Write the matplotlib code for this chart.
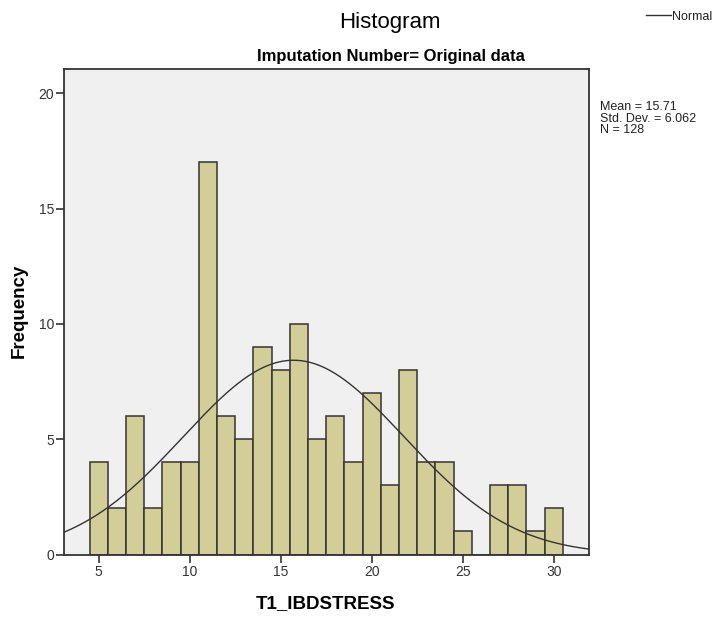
import numpy as np
import matplotlib
matplotlib.use("Agg")
import matplotlib.pyplot as plt
from matplotlib.lines import Line2D

plt.rcParams['font.family'] = ['Liberation Sans', 'DejaVu Sans']

# frequency of each T1_IBDSTRESS score
scores = [5, 6, 7, 8, 9, 10, 11, 12, 13, 14, 15, 16, 17, 18, 19, 20,
          21, 22, 23, 24, 25, 26, 27, 28, 29, 30]
counts = [4, 2, 6, 2, 4, 4, 17, 6, 5, 9, 8, 10, 5, 6, 4, 7,
          3, 8, 4, 4, 1, 0, 3, 3, 1, 2]

mean_val = 15.71
sd_val = 6.062
n_val = 128

W, H = 719, 619
fig = plt.figure(figsize=(W / 100, H / 100), dpi=100)
ax = fig.add_axes([64.3 / W, 1 - 554.5 / H, (589 - 64.3) / W, (554.5 - 69.3) / H])
ax.set_facecolor("#f0f0f0")

ax.bar(scores, counts, width=1.0, color="#d3ce97", edgecolor="#333333", linewidth=1.1, zorder=2)

# normal curve scaled to counts (bin width 1)
xlo, xhi = 3.11, 31.94
xs = np.linspace(xlo, xhi, 300)
ys = n_val * np.exp(-0.5 * ((xs - mean_val) / sd_val) ** 2) / (sd_val * np.sqrt(2 * np.pi))
ax.plot(xs, ys, color="#333333", linewidth=1.0, zorder=3)

ax.set_xlim(xlo, xhi)
ax.set_ylim(0, 21.04)
ax.set_xticks([5, 10, 15, 20, 25, 30])
ax.set_yticks([0, 5, 10, 15, 20])
ax.tick_params(direction="out", length=6, width=1.2, color="#333333", labelsize=10,
               labelcolor="#333333", pad=1.5)
for s in ax.spines.values():
    s.set_linewidth(1.3)
    s.set_color("#333333")

fig.text(390 / W, 1 - 28.3 / H, "Histogram", ha="center", va="baseline", fontsize=16)
fig.text(391 / W, 1 - 60.7 / H, "Imputation Number= Original data", ha="center", va="baseline",
         fontsize=12, fontweight="bold")
fig.text(326 / W, 1 - 608.3 / H, "T1_IBDSTRESS", ha="center", va="baseline", fontsize=13.5,
         fontweight="bold")
fig.text(19 / W, 1 - 310.5 / H, "Frequency", ha="center", va="center", rotation=90, fontsize=13.5,
         fontweight="bold")

stats = [f"Mean = {mean_val:.2f}", f"Std. Dev. = {sd_val:.3f}", f"N = {n_val}"]
for i, line in enumerate(stats):
    fig.text(600 / W, 1 - (110 + 11.7 * i) / H, line, ha="left", va="baseline",
             fontsize=9, color="#222222")

fig.add_artist(Line2D([646 / W, 671 / W], [1 - 15 / H, 1 - 15 / H],
                      color="#333333", linewidth=1.0))
fig.text(672 / W, 1 - 20.5 / H, "Normal", ha="left", va="baseline", fontsize=9, color="#222222")

fig.savefig("out.png", dpi=100)
